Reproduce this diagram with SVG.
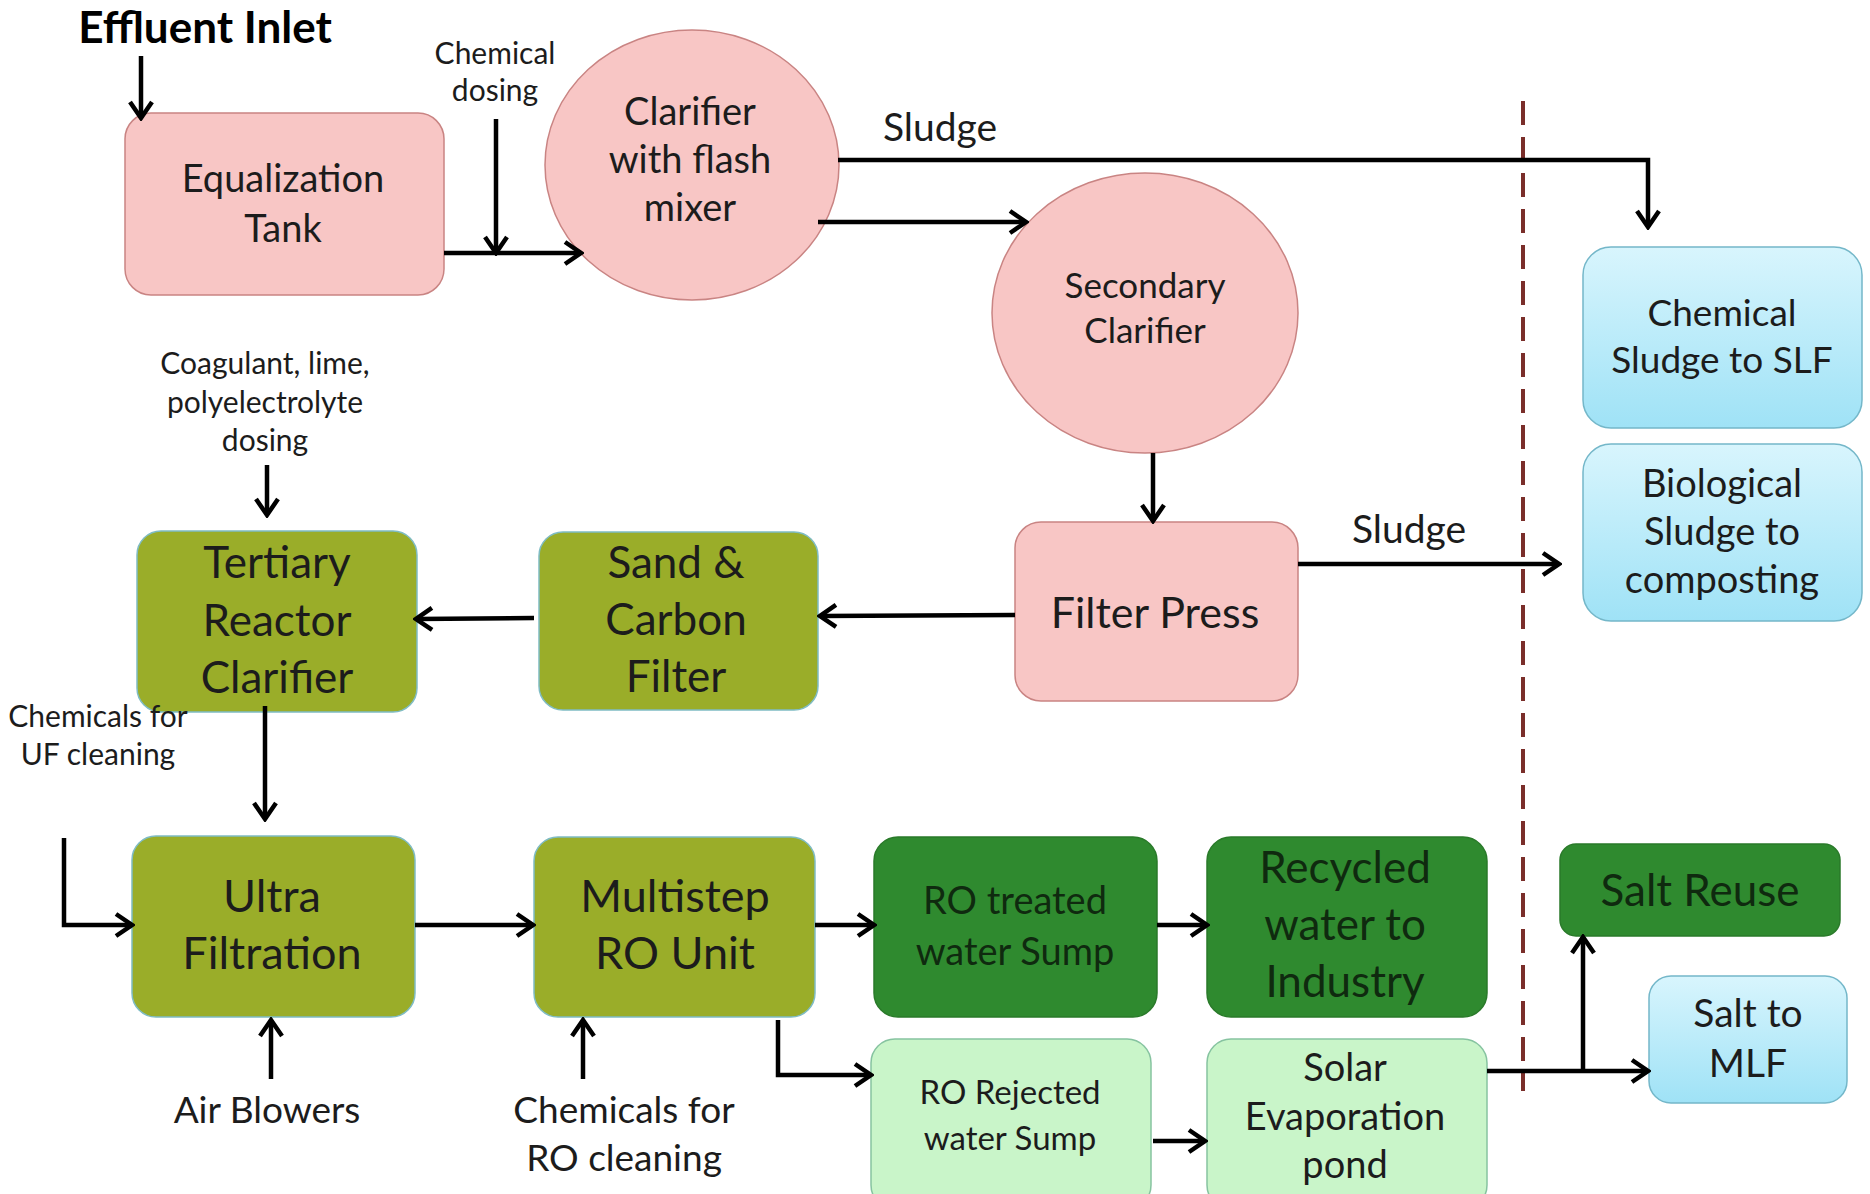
<svg xmlns="http://www.w3.org/2000/svg" width="1870" height="1194" viewBox="0 0 1870 1194">
<style>
  text { font-family: Lato, "Open Sans", sans-serif; fill: #1c1c1c; text-anchor: middle; }
  .f45 { font-size: 45px; }
  .f44 { font-size: 44px; }
  .f43 { font-size: 43px; }
  .f39 { font-size: 39px; }
  .f38 { font-size: 38px; }
  .f37 { font-size: 37px; }
  .f35 { font-size: 35px; }
  .f33 { font-size: 33px; }
  .lbl { font-size: 30px; }
  .pink { fill: #f8c6c5; stroke: #c98483; stroke-width: 1.5; }
  .olive { fill: #9aad29; stroke: #7fbcc4; stroke-width: 1.5; }
  .dgreen { fill: #2f8a2f; stroke: #2a7a2a; stroke-width: 1.5; }
  .lgreen { fill: #c9f5c9; stroke: #86c3a0; stroke-width: 1.5; }
  .blue { fill: url(#blueGrad); stroke: #74b7c9; stroke-width: 1.5; }
  .dg text { fill: #0f2a0f; }
  .conn { fill: none; stroke: #000; stroke-width: 4.5; }
</style>
<defs>
  <linearGradient id="blueGrad" x1="0" y1="0" x2="0" y2="1">
    <stop offset="0" stop-color="#d8f5fd"/>
    <stop offset="1" stop-color="#9fe2f6"/>
  </linearGradient>
  <marker id="arr" viewBox="0 0 22 26" refX="19" refY="13" markerWidth="22" markerHeight="26" markerUnits="userSpaceOnUse" orient="auto">
    <path d="M3,2 L19,13 L3,24" fill="none" stroke="#000" stroke-width="4.5"/>
  </marker>
</defs>
<rect width="1870" height="1194" fill="#ffffff"/>

<!-- dashed boundary -->
<line x1="1523" y1="101" x2="1523" y2="1091" stroke="#7a2e2a" stroke-width="4" stroke-dasharray="24,12"/>

<!-- nodes -->
<g id="equalization-tank">
  <rect class="pink" x="125" y="113" width="319" height="182" rx="26"/>
  <text class="f38" x="283" y="192">Equalization</text>
  <text class="f38" x="283" y="242">Tank</text>
</g>
<g id="clarifier-flash-mixer">
  <ellipse class="pink" cx="692" cy="165" rx="147" ry="135"/>
  <text class="f38" x="690" y="125">Clarifier</text>
  <text class="f38" x="690" y="173">with flash</text>
  <text class="f38" x="690" y="221">mixer</text>
</g>
<g id="secondary-clarifier">
  <ellipse class="pink" cx="1145" cy="313" rx="153" ry="140"/>
  <text class="f35" x="1145" y="298">Secondary</text>
  <text class="f35" x="1145" y="343">Clarifier</text>
</g>
<g id="filter-press">
  <rect class="pink" x="1015" y="522" width="283" height="179" rx="26"/>
  <text class="f43" x="1155" y="628">Filter Press</text>
</g>
<g id="chemical-sludge">
  <rect class="blue" x="1583" y="247" width="279" height="181" rx="28"/>
  <text class="f37" x="1722" y="326">Chemical</text>
  <text class="f37" x="1722" y="373">Sludge to SLF</text>
</g>
<g id="biological-sludge">
  <rect class="blue" x="1583" y="444" width="279" height="177" rx="28"/>
  <text class="f38" x="1722" y="497">Biological</text>
  <text class="f38" x="1722" y="545">Sludge to</text>
  <text class="f38" x="1722" y="593">composting</text>
</g>
<g id="sand-carbon-filter">
  <rect class="olive" x="539" y="532" width="279" height="178" rx="24"/>
  <text class="f44" x="676" y="578">Sand &amp;</text>
  <text class="f44" x="676" y="635">Carbon</text>
  <text class="f44" x="676" y="692">Filter</text>
</g>
<g id="tertiary-reactor-clarifier">
  <rect class="olive" x="137" y="531" width="280" height="181" rx="24"/>
  <text class="f44" x="277" y="578">Tertiary</text>
  <text class="f44" x="277" y="636">Reactor</text>
  <text class="f44" x="277" y="693">Clarifier</text>
</g>
<g id="ultra-filtration">
  <rect class="olive" x="132" y="836" width="283" height="181" rx="24"/>
  <text class="f45" x="272" y="912">Ultra</text>
  <text class="f45" x="272" y="969">Filtration</text>
</g>
<g id="multistep-ro">
  <rect class="olive" x="534" y="837" width="281" height="180" rx="24"/>
  <text class="f45" x="675" y="912">Multistep</text>
  <text class="f45" x="675" y="969">RO Unit</text>
</g>
<g id="ro-treated-sump" class="dg">
  <rect class="dgreen" x="874" y="837" width="283" height="180" rx="24"/>
  <text class="f38" x="1015" y="914">RO treated</text>
  <text class="f38" x="1015" y="965">water Sump</text>
</g>
<g id="recycled-water" class="dg">
  <rect class="dgreen" x="1207" y="837" width="280" height="180" rx="24"/>
  <text class="f44" x="1345" y="883">Recycled</text>
  <text class="f44" x="1345" y="940">water to</text>
  <text class="f44" x="1345" y="997">Industry</text>
</g>
<g id="ro-rejected-sump">
  <rect class="lgreen" x="871" y="1039" width="280" height="170" rx="24"/>
  <text class="f33" x="1010" y="1104">RO Rejected</text>
  <text class="f33" x="1010" y="1150">water Sump</text>
</g>
<g id="solar-evaporation">
  <rect class="lgreen" x="1207" y="1039" width="280" height="170" rx="24"/>
  <text class="f38" x="1345" y="1081">Solar</text>
  <text class="f38" x="1345" y="1130">Evaporation</text>
  <text class="f38" x="1345" y="1178">pond</text>
</g>
<g id="salt-reuse" class="dg">
  <rect class="dgreen" x="1560" y="844" width="280" height="92" rx="16"/>
  <text class="f44" x="1700" y="906">Salt Reuse</text>
</g>
<g id="salt-mlf">
  <rect class="blue" x="1649" y="976" width="198" height="127" rx="22"/>
  <text class="f39" x="1748" y="1027">Salt to</text>
  <text class="f39" x="1748" y="1077">MLF</text>
</g>

<!-- labels -->
<g id="labels">
  <text x="205" y="43" style="font-size:44px;font-weight:bold;fill:#000">Effluent Inlet</text>
  <text class="lbl" x="495" y="64">Chemical</text>
  <text class="lbl" x="495" y="101">dosing</text>
  <text class="f39" x="940" y="141">Sludge</text>
  <text class="f39" x="1409" y="543">Sludge</text>
  <text class="lbl" x="265" y="374">Coagulant, lime,</text>
  <text class="lbl" x="265" y="413">polyelectrolyte</text>
  <text class="lbl" x="265" y="451">dosing</text>
  <text class="lbl" x="98" y="727">Chemicals for</text>
  <text class="lbl" x="98" y="765">UF cleaning</text>
  <text class="f37" x="267" y="1123">Air Blowers</text>
  <text class="f37" x="624" y="1123">Chemicals for</text>
  <text class="f37" x="624" y="1171">RO cleaning</text>
</g>

<!-- connectors -->
<g id="connectors">
  <path class="conn" d="M141,56 L141,118" marker-end="url(#arr)"/>
  <path class="conn" d="M496,119 L496,253" marker-end="url(#arr)"/>
  <path class="conn" d="M444,253 L581,253" marker-end="url(#arr)"/>
  <path class="conn" d="M838,160 L1648,160 L1648,227" marker-end="url(#arr)"/>
  <path class="conn" d="M818,222 L1026,222" marker-end="url(#arr)"/>
  <path class="conn" d="M1153,453 L1153,521" marker-end="url(#arr)"/>
  <path class="conn" d="M1298,564 L1559,564" marker-end="url(#arr)"/>
  <path class="conn" d="M1015,615 L820,616" marker-end="url(#arr)"/>
  <path class="conn" d="M534,618 L416,619" marker-end="url(#arr)"/>
  <path class="conn" d="M267,465 L267,515" marker-end="url(#arr)"/>
  <path class="conn" d="M265,706 L265,819" marker-end="url(#arr)"/>
  <path class="conn" d="M64,838 L64,925 L132,925" marker-end="url(#arr)"/>
  <path class="conn" d="M415,925 L533,925" marker-end="url(#arr)"/>
  <path class="conn" d="M271,1079 L271,1020" marker-end="url(#arr)"/>
  <path class="conn" d="M583,1079 L583,1020" marker-end="url(#arr)"/>
  <path class="conn" d="M815,925 L874,925" marker-end="url(#arr)"/>
  <path class="conn" d="M1157,925 L1207,925" marker-end="url(#arr)"/>
  <path class="conn" d="M778,1020 L778,1075 L871,1075" marker-end="url(#arr)"/>
  <path class="conn" d="M1153,1141 L1205,1141" marker-end="url(#arr)"/>
  <path class="conn" d="M1487,1071 L1648,1071" marker-end="url(#arr)"/>
  <path class="conn" d="M1583,1071 L1583,937" marker-end="url(#arr)"/>
</g>
</svg>
